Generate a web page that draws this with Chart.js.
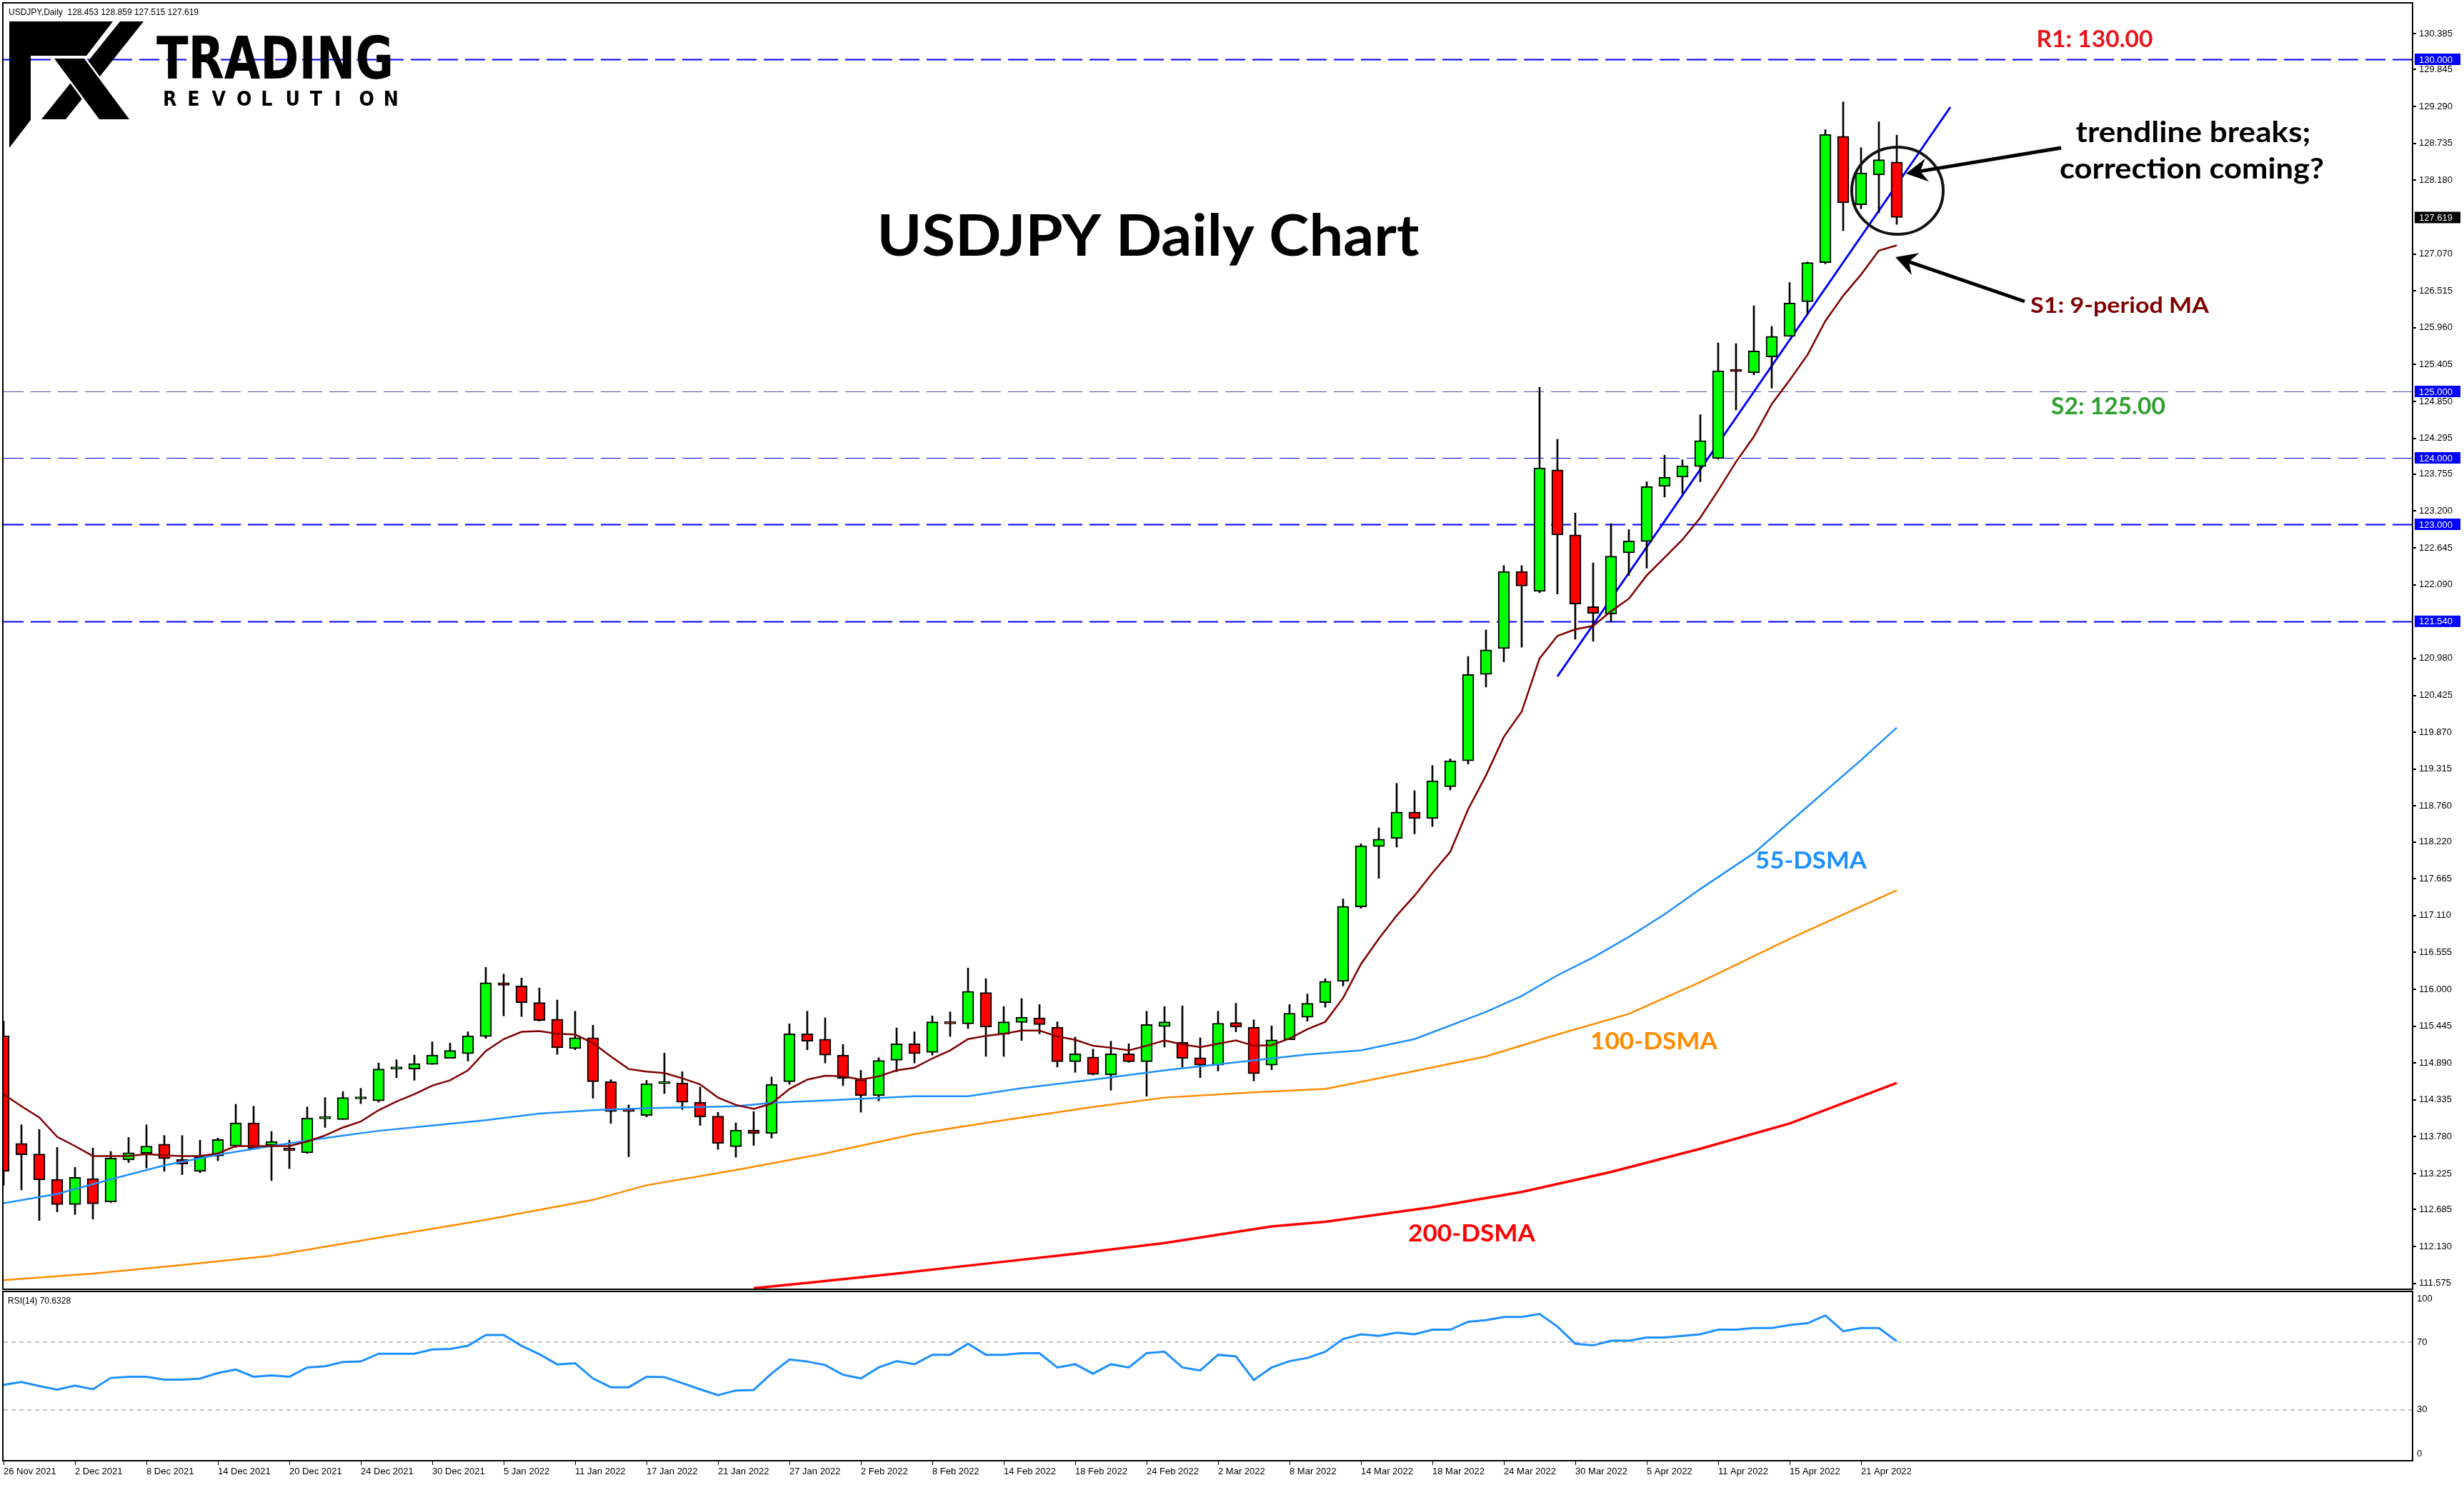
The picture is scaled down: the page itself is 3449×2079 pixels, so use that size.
<!DOCTYPE html>
<html>
<head>
<meta charset="utf-8">
<title>USDJPY Daily Chart</title>
<script src="https://cdn.jsdelivr.net/npm/chart.js@4.4.1/dist/chart.umd.min.js"></script>
<style>
  html, body { margin: 0; padding: 0; background: #fff; }
  #wrap { position: relative; width: 3449px; height: 2079px; overflow: hidden; background: #fff; }
  #main { position: absolute; left: 0; top: 0; }
  #rsi { position: absolute; left: 0; top: 1806px; }
</style>
</head>
<body>
<div id="wrap">
  <canvas id="main" width="3449" height="1806" style="width:3449px;height:1806px"></canvas>
  <canvas id="rsi" width="3449" height="273" style="width:3449px;height:273px"></canvas>
</div>
<script>
// daily bars, 26 Nov 2021 .. 25 Apr 2022 (bar index = position in arrays)
const opens = [115.30,113.68,113.52,113.14,112.76,113.15,112.80,113.43,113.53,113.67,113.44,113.26,113.49,113.64,113.99,113.65,113.61,113.54,114.05,114.04,
  114.35,114.32,114.80,114.80,114.87,114.96,115.03,115.29,116.10,116.05,115.80,115.55,115.11,115.27,114.61,114.17,114.10,114.58,114.59,114.30,
  114.09,113.63,113.88,113.83,114.61,115.33,115.25,115.01,114.64,114.40,114.93,115.18,115.05,115.51,115.48,115.95,115.32,115.50,115.57,115.43,
  114.91,114.98,114.71,115.03,114.91,115.44,115.20,114.97,114.86,115.50,115.43,114.86,115.24,115.58,115.80,116.12,117.24,118.15,118.27,118.67,
  118.57,119.05,119.44,120.74,121.13,122.29,121.99,123.82,122.84,121.76,121.65,122.57,122.74,123.57,123.71,123.87,123.99,125.31,125.28,125.52,
  125.83,126.35,126.94,128.84,127.81,128.26,128.453];
const highs = [115.52,113.96,113.89,113.62,113.32,113.61,113.56,113.77,113.96,113.80,113.80,113.73,113.76,114.27,114.24,113.86,113.73,114.23,114.37,114.46,
  114.51,114.89,114.94,115.01,115.21,115.19,115.36,116.33,116.23,116.17,116.02,115.84,115.67,115.46,114.64,114.26,114.63,115.04,114.76,114.53,
  114.15,113.99,114.16,114.68,115.48,115.67,115.57,115.17,114.78,114.97,115.42,115.36,115.60,115.66,116.32,116.16,115.74,115.86,115.77,115.51,
  115.28,115.10,115.22,115.18,115.67,115.74,115.75,115.27,115.67,115.79,115.54,115.45,115.77,115.93,116.16,117.36,118.19,118.43,119.10,118.99,
  119.37,119.47,121.01,121.41,122.38,122.38,125.06,124.28,123.17,122.42,123.01,122.92,123.64,124.04,123.97,124.65,125.73,125.72,126.29,125.98,
  126.64,126.95,128.94,129.36,128.67,129.06,128.859];
const lows = [113.05,112.98,112.52,112.65,112.61,112.54,112.79,113.39,113.31,113.26,113.21,113.24,113.42,113.62,113.59,113.12,113.30,113.53,113.92,114.04,
  114.28,114.30,114.67,114.63,114.87,114.96,114.92,115.26,115.60,115.59,115.52,115.02,115.09,114.36,113.98,113.48,114.08,114.43,114.19,113.95,
  113.59,113.47,113.65,113.76,114.57,115.09,114.89,114.55,114.15,114.32,114.76,114.89,115.01,115.29,115.41,114.99,114.99,115.23,115.33,114.83,
  114.75,114.71,114.48,114.90,114.39,115.13,114.83,114.67,114.77,115.36,114.62,114.79,115.24,115.52,115.73,116.05,117.22,117.67,118.14,118.34,
  118.45,119.00,119.39,120.55,120.93,121.15,121.97,121.95,121.27,121.24,121.53,122.23,122.34,123.41,123.46,123.64,123.98,124.72,125.25,125.05,
  125.83,126.16,126.92,127.42,127.75,127.69,127.515];
const closes = [113.26,113.51,113.13,112.76,113.17,112.77,113.46,113.54,113.64,113.45,113.37,113.48,113.74,113.99,113.60,113.71,113.57,114.06,114.08,114.37,
  114.37,114.80,114.81,114.88,115.01,115.08,115.30,116.10,116.06,115.80,115.53,115.12,115.27,114.61,114.16,114.16,114.58,114.59,114.30,114.08,
  113.68,113.88,113.83,114.57,115.33,115.22,115.01,114.66,114.40,114.93,115.18,115.03,115.51,115.48,115.97,115.43,115.51,115.58,115.47,114.91,
  115.03,114.72,115.03,114.91,115.47,115.51,114.96,114.86,115.49,115.43,114.73,115.24,115.64,115.79,116.12,117.25,118.16,118.26,118.67,118.57,
  119.14,119.44,120.74,121.11,122.29,122.07,123.85,122.84,121.80,121.66,122.52,122.75,123.57,123.71,123.88,124.26,125.31,125.30,125.61,125.83,
  126.33,126.94,128.87,127.84,128.29,128.49,127.619];

// 9-period MA, read at every bar
const ma9 = [114.42,114.24,114.07,113.78,113.64,113.49,113.49,113.49,113.52,113.50,113.49,113.49,113.53,113.64,113.64,113.64,113.64,113.71,113.80,113.92,
  114.01,114.18,114.31,114.42,114.55,114.63,114.78,115.07,115.25,115.36,115.37,115.33,115.32,115.19,114.99,114.80,114.76,114.74,114.66,114.57,
  114.37,114.26,114.20,114.28,114.50,114.64,114.70,114.69,114.64,114.69,114.78,114.82,114.96,115.08,115.25,115.30,115.33,115.38,115.38,115.29,
  115.24,115.15,115.12,115.08,115.15,115.23,115.17,115.13,115.18,115.23,115.15,115.16,115.26,115.40,115.51,115.87,116.38,116.76,117.11,117.41,
  117.75,118.07,118.71,119.22,119.80,120.18,120.98,121.32,121.42,121.47,121.69,121.88,122.23,122.50,122.77,123.10,123.51,123.94,124.32,124.81,
  125.17,125.55,126.06,126.44,126.76,127.12,127.20];

// daily SMAs, read as [bar, value]
const sma55 = [[0,112.78],[3,112.92],[6,113.14],[9,113.35],[12,113.51],[15,113.64],[18,113.76],[21,113.87],[24,113.95],[27,114.03],[30,114.13],[33,114.18],
  [36,114.21],[41,114.24],[43,114.29],[47,114.34],[51,114.39],[54,114.39],[57,114.51],[61,114.64],[65,114.78],[69,114.90],[73,115.02],[76,115.08],
  [79,115.25],[83,115.66],[85,115.90],[87,116.21],[89,116.48],[91,116.79],[93,117.13],[95,117.51],[98,118.05],[101,118.75],[104,119.45],[106,119.94]];
const sma100 = [[0,111.62],[5,111.72],[10,111.85],[15,111.99],[21,112.26],[27,112.53],[33,112.83],[36,113.05],[41,113.28],[46,113.53],[51,113.82],
  [55,113.99],[61,114.23],[65,114.37],[70,114.45],[74,114.50],[79,114.77],[83,114.99],[87,115.32],[91,115.63],[95,116.11],[100,116.76],[106,117.49]];
const sma200 = [[42,111.50],[45,111.58],[50,111.72],[55,111.87],[60,112.02],[65,112.18],[71,112.43],[74,112.50],[80,112.72],[85,112.95],[90,113.25],
  [95,113.60],[100,113.98],[106,114.59]];

const rsi14 = [44.8,46.5,44.1,42.0,44.4,42.2,48.9,49.6,49.6,47.9,47.9,48.5,51.8,53.9,49.6,50.4,49.6,55.1,55.8,58.3,
  58.6,63.2,63.2,63.2,65.7,66.0,67.9,74.3,74.3,67.9,62.9,56.9,57.6,48.6,43.4,43.4,49.6,49.4,45.8,42.2,
  38.7,41.5,41.8,51.5,59.8,58.6,56.5,50.8,48.6,55.1,58.8,57.0,62.6,62.6,69.1,62.6,62.6,63.5,63.5,55.1,
  57.0,51.4,57.0,55.1,63.5,64.4,55.1,53.3,62.6,61.6,47.7,55.1,58.8,60.7,64.4,71.9,74.7,73.7,75.6,74.7,
  77.4,77.4,82.1,83.0,84.9,84.9,86.7,79.3,69.1,68.1,70.9,70.9,72.8,72.8,73.7,74.7,77.4,77.4,78.4,78.4,
  80.2,81.2,85.8,76.5,78.4,78.4,70.6];

const trendline = [[87,120.71],[109,129.28]];
const levelPrices = [130.000, 125.000, 124.000, 123.000, 121.540];
const lastPrice = 127.619;

const priceTicks = [130.385,129.845,129.290,128.735,128.180,127.070,126.515,125.960,125.405,124.850,124.295,123.755,123.200,122.645,122.090,
  120.980,120.425,119.870,119.315,118.760,118.220,117.665,117.110,116.555,116.000,115.445,114.890,114.335,113.780,113.225,112.685,112.130,111.575];
const rsiTicks = [100, 70, 30, 0];
const dateTickBars = [0,4,8,12,16,20,24,28,32,36,40,44,48,52,56,60,64,68,72,76,80,84,88,92,96,100,104];
const dateTicks = ['26 Nov 2021','2 Dec 2021','8 Dec 2021','14 Dec 2021','20 Dec 2021','24 Dec 2021','30 Dec 2021','5 Jan 2022','11 Jan 2022',
  '17 Jan 2022','21 Jan 2022','27 Jan 2022','2 Feb 2022','8 Feb 2022','14 Feb 2022','18 Feb 2022','24 Feb 2022','2 Mar 2022','8 Mar 2022',
  '14 Mar 2022','18 Mar 2022','24 Mar 2022','30 Mar 2022','5 Apr 2022','11 Apr 2022','15 Apr 2022','21 Apr 2022'];

const X_MIN = 0, X_MAX = 134.88;
const AXIS_FONT = { family: 'Liberation Sans', size: 13 };

function pts(pairs) { return pairs.map(p => ({ x: p[0], y: p[1] })); }

function fitText(ctx, text, cx, baseline, width, font, color) {
  ctx.save();
  ctx.font = font;
  ctx.fillStyle = color;
  ctx.textAlign = 'center';
  ctx.textBaseline = 'alphabetic';
  const w = ctx.measureText(text).width;
  ctx.translate(cx, baseline);
  ctx.scale(width / w, 1);
  ctx.fillText(text, 0, 0);
  ctx.restore();
}

function arrow(ctx, x1, y1, x2, y2) {
  const ang = Math.atan2(y2 - y1, x2 - x1);
  ctx.save();
  ctx.strokeStyle = '#000';
  ctx.fillStyle = '#000';
  ctx.lineWidth = 5;
  ctx.beginPath();
  ctx.moveTo(x1, y1);
  ctx.lineTo(x2 - 16 * Math.cos(ang), y2 - 16 * Math.sin(ang));
  ctx.stroke();
  const len = 34, spread = 0.5;
  ctx.beginPath();
  ctx.moveTo(x2, y2);
  ctx.lineTo(x2 - len * Math.cos(ang - spread), y2 - len * Math.sin(ang - spread));
  ctx.lineTo(x2 - 20 * Math.cos(ang), y2 - 20 * Math.sin(ang));
  ctx.lineTo(x2 - len * Math.cos(ang + spread), y2 - len * Math.sin(ang + spread));
  ctx.closePath();
  ctx.fill();
  ctx.restore();
}

function drawLogo(ctx) {
  ctx.save();
  ctx.fillStyle = '#000';
  const poly = (p) => { ctx.beginPath(); ctx.moveTo(p[0][0], p[0][1]); for (let i = 1; i < p.length; i++) ctx.lineTo(p[i][0], p[i][1]); ctx.closePath(); };
  poly([[13,30],[43,30],[43,168],[13,207]]); ctx.fill();
  poly([[43,30],[158,30],[121,78],[43,78]]); ctx.fill();
  poly([[168,30],[201,30],[92,167],[58,167]]); ctx.fill();
  poly([[76,82],[118,82],[181,167],[139,167]]);
  ctx.strokeStyle = '#fff'; ctx.lineWidth = 5; ctx.stroke(); ctx.fill();
  // TRADING / REVOLUTION
  ctx.font = 'bold 82px "DejaVu Sans Condensed"';
  ctx.textBaseline = 'alphabetic';
  ctx.textAlign = 'left';
  const w = ctx.measureText('TRADING').width;
  ctx.translate(219, 110);
  ctx.scale(332 / w, 1);
  ctx.fillText('TRADING', 0, 0);
  ctx.restore();
  ctx.save();
  ctx.fillStyle = '#000';
  ctx.font = 'bold 28px "DejaVu Sans Condensed"';
  ctx.textBaseline = 'alphabetic';
  'REVOLUTION'.split('').forEach((ch, k) => ctx.fillText(ch, 228 + k * 34.3, 148));
  ctx.restore();
}

// plugin for the price panel: frame, level lines, price boxes, notes
const mainDecor = {
  id: 'mainDecor',
  beforeDatasetsDraw(chart) {
    const { ctx, chartArea: a, scales: { y } } = chart;
    ctx.save();
    ctx.beginPath();
    ctx.rect(a.left, a.top, a.right - a.left, a.bottom - a.top);
    ctx.clip();
    levelPrices.forEach((p, i) => {
      const py = Math.round(y.getPixelForValue(p)) + 0.5;
      ctx.strokeStyle = (i === 1) ? '#4b4b9b' : '#0000ff';
      ctx.lineWidth = (i === 1 || i === 2) ? 1 : 2;
      ctx.setLineDash([28, 10]);
      ctx.beginPath();
      ctx.moveTo(a.left, py);
      ctx.lineTo(a.right, py);
      ctx.stroke();
    });
    ctx.restore();
  },
  afterDraw(chart) {
    const { ctx, chartArea: a, scales: { y } } = chart;
    ctx.save();
    // frame
    ctx.strokeStyle = '#000';
    ctx.lineWidth = 2;
    ctx.strokeRect(a.left - 1, a.top - 1, a.right - a.left + 1, a.bottom - a.top + 2);
    // header
    ctx.font = '12px "Liberation Sans"';
    ctx.fillStyle = '#000';
    ctx.textBaseline = 'middle';
    ctx.fillText('USDJPY,Daily  128.453 128.859 127.515 127.619', 12, 18);
    // price boxes on the axis
    ctx.font = '13px "Liberation Sans"';
    levelPrices.concat([lastPrice]).forEach((p, i) => {
      const py = y.getPixelForValue(p);
      ctx.fillStyle = (i === levelPrices.length) ? '#000' : '#0000ff';
      ctx.fillRect(a.right + 3, py - 8, 64, 16);
      ctx.fillStyle = '#fff';
      ctx.textAlign = 'left';
      ctx.fillText(p.toFixed(3), a.right + 9, py + 1);
    });
    ctx.restore();

    drawLogo(ctx);

    // notes
    const bold = (s) => 'bold ' + s + 'px Lato';
    fitText(ctx, 'USDJPY Daily Chart', 1607, 358, 759, bold(80), '#000');
    fitText(ctx, 'R1: 130.00', 2932, 66, 163, bold(32), '#e8141a');
    fitText(ctx, 'S2: 125.00', 2951, 580, 160, bold(32), '#2ea02e');
    fitText(ctx, 'trendline breaks;', 3070, 199, 329, bold(40), '#000');
    fitText(ctx, 'correction coming?', 3068, 250, 370, bold(40), '#000');
    fitText(ctx, 'S1: 9-period MA', 2967, 438, 250, bold(31), '#7f0000');
    fitText(ctx, '55-DSMA', 2535, 1216, 156, bold(32), '#1e90ff');
    fitText(ctx, '100-DSMA', 2315, 1469, 178, bold(32), '#ff8c00');
    fitText(ctx, '200-DSMA', 2060, 1738, 178, bold(32), '#ff0000');

    ctx.save();
    ctx.strokeStyle = '#111';
    ctx.lineWidth = 4;
    ctx.beginPath();
    ctx.ellipse(2656, 267, 64, 61, 0, 0, Math.PI * 2);
    ctx.stroke();
    ctx.restore();
    arrow(ctx, 2885, 207, 2668, 243);
    arrow(ctx, 2834, 422, 2653, 360);
  }
};

const bodyColors = opens.map((o, i) => closes[i] >= o ? '#00ff00' : '#ff0000');

new Chart(document.getElementById('main'), {
  type: 'bar',
  data: {
    datasets: [
      { type: 'line', label: 'trend', data: pts(trendline), borderColor: '#0000ff', borderWidth: 3,
        pointRadius: 0, order: 6, clip: 0 },
      { type: 'bar', label: 'wick', data: lows.map((l, i) => ({ x: i, y: [l, highs[i]] })),
        backgroundColor: '#000', barThickness: 2, grouped: false, order: 5, clip: 0 },
      { type: 'bar', label: 'body', data: opens.map((o, i) => ({ x: i, y: [o, closes[i]] })),
        backgroundColor: bodyColors, borderColor: '#000', borderWidth: 2, borderSkipped: false,
        barThickness: 16, minBarLength: 3, grouped: false, order: 4, clip: 0 },
      { type: 'line', label: '200', data: pts(sma200), borderColor: '#ff0000', borderWidth: 3.5, pointRadius: 0, order: 3, clip: 0 },
      { type: 'line', label: '100', data: pts(sma100), borderColor: '#ff8c00', borderWidth: 2.5, pointRadius: 0, order: 3, clip: 0 },
      { type: 'line', label: '55', data: pts(sma55), borderColor: '#1e90ff', borderWidth: 2.5, pointRadius: 0, order: 3, clip: 0 },
      { type: 'line', label: 'ma9', data: ma9.map((v, i) => ({ x: i, y: v })), borderColor: '#800000', borderWidth: 2.5,
        pointRadius: 0, order: 2, clip: 0 }
    ]
  },
  options: {
    responsive: false,
    animation: false,
    layout: { padding: { left: 5, top: 5, right: 0, bottom: 2 } },
    plugins: { legend: { display: false }, tooltip: { enabled: false } },
    scales: {
      x: { type: 'linear', min: X_MIN, max: X_MAX, offset: false, display: false },
      y: {
        position: 'right', min: 111.495, max: 130.839,
        afterBuildTicks: (s) => { s.ticks = priceTicks.map(v => ({ value: v })); },
        afterFit: (s) => { s.width = 72; s.paddingTop = 0; s.paddingBottom = 0; },
        ticks: { font: AXIS_FONT, color: '#000', padding: 4, callback: (v) => Number(v).toFixed(3) },
        grid: { drawOnChartArea: false, drawTicks: true, tickLength: 5, color: '#000', lineWidth: 2 },
        border: { color: '#000', width: 2 }
      }
    }
  },
  plugins: [mainDecor]
});

// RSI panel with the date axis
const rsiDecor = {
  id: 'rsiDecor',
  beforeDatasetsDraw(chart) {
    const { ctx, chartArea: a, scales: { y } } = chart;
    ctx.save();
    ctx.strokeStyle = '#c0c0c0';
    ctx.lineWidth = 2;
    ctx.setLineDash([6, 5]);
    [70, 30].forEach(v => {
      const py = Math.round(y.getPixelForValue(v));
      ctx.beginPath();
      ctx.moveTo(a.left, py);
      ctx.lineTo(a.right, py);
      ctx.stroke();
    });
    ctx.restore();
  },
  afterDraw(chart) {
    const { ctx, chartArea: a, scales: { y } } = chart;
    ctx.save();
    ctx.strokeStyle = '#000';
    ctx.lineWidth = 2;
    ctx.strokeRect(a.left - 1, a.top, a.right - a.left + 1, a.bottom - a.top);
    ctx.fillStyle = '#000';
    ctx.font = '12px "Liberation Sans"';
    ctx.textBaseline = 'middle';
    ctx.fillText('RSI(14) 70.6328', 11, 16);
    ctx.font = '13px "Liberation Sans"';
    rsiTicks.forEach(v => {
      const py = Math.min(Math.max(y.getPixelForValue(v), a.top + 10), a.bottom - 10);
      ctx.fillText(String(v), a.right + 6, py);
    });
    ctx.restore();
  }
};

new Chart(document.getElementById('rsi'), {
  type: 'line',
  data: {
    datasets: [{ data: rsi14.map((v, i) => ({ x: i, y: v })), borderColor: '#1e90ff', borderWidth: 3, pointRadius: 0, clip: 0 }]
  },
  options: {
    responsive: false,
    animation: false,
    layout: { padding: { left: 5, top: 2, right: 0, bottom: 0 } },
    plugins: { legend: { display: false }, tooltip: { enabled: false } },
    scales: {
      x: {
        type: 'linear', min: X_MIN, max: X_MAX, offset: false,
        afterBuildTicks: (s) => { s.ticks = dateTickBars.map(v => ({ value: v })); },
        afterFit: (s) => { s.height = 34; s.paddingLeft = 0; s.paddingRight = 0; },
        ticks: {
          font: AXIS_FONT, color: '#000', align: 'start', maxRotation: 0, autoSkip: false, padding: 2,
          callback: (v) => dateTicks[dateTickBars.indexOf(v)]
        },
        grid: { drawOnChartArea: false, drawTicks: true, tickLength: 6, color: '#000', lineWidth: 1 },
        border: { color: '#000', width: 2 }
      },
      y: {
        position: 'right', min: 0, max: 100,
        afterFit: (s) => { s.width = 72; s.paddingTop = 0; s.paddingBottom = 0; },
        ticks: { display: false },
        grid: { drawOnChartArea: false, drawTicks: false },
        border: { color: '#000', width: 2 }
      }
    }
  },
  plugins: [rsiDecor]
});
</script>
</body>
</html>
